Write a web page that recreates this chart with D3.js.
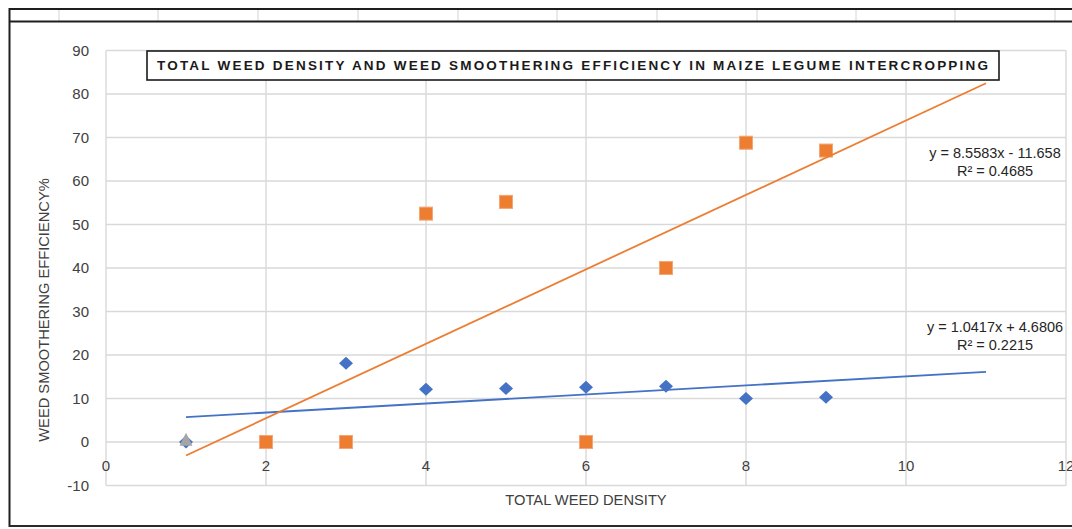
<!DOCTYPE html>
<html>
<head>
<meta charset="utf-8">
<script src="https://cdn.jsdelivr.net/npm/d3@7"></script>
<style>
html,body{margin:0;padding:0;background:#fff;}
svg{display:block;}
</style>
</head>
<body>
<svg id="chart" width="1072" height="529"></svg>
<script>
// ---- data ----
const title = "TOTAL WEED DENSITY AND WEED SMOOTHERING EFFICIENCY IN MAIZE LEGUME INTERCROPPING";
const xTitle = "TOTAL WEED DENSITY";
const yTitle = "WEED SMOOTHERING EFFICIENCY%";
const xTicks = [0, 2, 4, 6, 8, 10, 12];
const yTicks = [-10, 0, 10, 20, 30, 40, 50, 60, 70, 80, 90];

const blueX = [1, 2, 3, 4, 5, 6, 7, 8, 9];
const blueY = [0, 0, 18.1, 12.1, 12.3, 12.6, 12.8, 10.0, 10.3];
const orangeX = [2, 3, 4, 5, 6, 7, 8, 9];
const orangeY = [0, 0, 52.5, 55.2, 0, 40, 68.8, 67];
const grayX = [1];
const grayY = [0.5];

const blueTrend = {slope: 1.0417, intercept: 4.6806, x0: 1, x1: 11};
const orangeTrend = {slope: 8.5583, intercept: -11.658, x0: 1, x1: 11};
const blueEq = ["y = 1.0417x + 4.6806", "R² = 0.2215"];
const orangeEq = ["y = 8.5583x - 11.658", "R² = 0.4685"];

// ---- drawing ----
const svg = d3.select("#chart");
const W = 1072, H = 529;
const x = d3.scaleLinear().domain([0, 12]).range([106, 1066]);
const y = d3.scaleLinear().domain([-10, 90]).range([485.5, 50.5]);
const font = "'Liberation Sans', Arial, sans-serif";

// spreadsheet strip at top
const cellLines = [59, 158, 258, 358, 458, 557, 657, 757, 856, 955, 1055];
svg.selectAll("line.cell").data(cellLines).enter().append("line")
  .attr("x1", d => d).attr("x2", d => d).attr("y1", 9).attr("y2", 21)
  .attr("stroke", "#d4d4d4").attr("stroke-width", 1);
svg.append("line").attr("x1", 9).attr("x2", W).attr("y1", 9).attr("y2", 9)
  .attr("stroke", "#1e1e1e").attr("stroke-width", 2);
svg.append("line").attr("x1", 9).attr("x2", W).attr("y1", 21.5).attr("y2", 21.5)
  .attr("stroke", "#1e1e1e").attr("stroke-width", 2);
svg.append("line").attr("x1", 9.5).attr("x2", 9.5).attr("y1", 8).attr("y2", 527)
  .attr("stroke", "#1e1e1e").attr("stroke-width", 2);
svg.append("line").attr("x1", 9).attr("x2", W).attr("y1", 526).attr("y2", 526)
  .attr("stroke", "#2a2a2a").attr("stroke-width", 2);

// gridlines
const g = svg.append("g");
g.selectAll("line.hg").data(yTicks).enter().append("line")
  .attr("x1", x(0)).attr("x2", x(12)).attr("y1", d => y(d)).attr("y2", d => y(d))
  .attr("stroke", "#d9d9d9").attr("stroke-width", 1.4);
g.selectAll("line.vg").data(xTicks).enter().append("line")
  .attr("x1", d => x(d)).attr("x2", d => x(d)).attr("y1", y(90)).attr("y2", y(-10))
  .attr("stroke", "#d9d9d9").attr("stroke-width", 1.4);

// tick labels
svg.selectAll("text.yt").data(yTicks).enter().append("text")
  .attr("x", 89).attr("y", d => y(d)).attr("dy", "0.35em")
  .attr("text-anchor", "end").attr("font-family", font).attr("font-size", 15)
  .attr("fill", "#404040").text(d => d);
svg.selectAll("text.xt").data(xTicks).enter().append("text")
  .attr("x", d => x(d)).attr("y", y(0) + 24).attr("dy", "0.35em")
  .attr("text-anchor", "middle").attr("font-family", font).attr("font-size", 15)
  .attr("fill", "#404040").text(d => d);

// axis titles
svg.append("text").attr("x", 586).attr("y", 500).attr("dy", "0.35em")
  .attr("text-anchor", "middle").attr("font-family", font).attr("font-size", 14.7)
  .attr("fill", "#404040").text(xTitle);
svg.append("text").attr("transform", "translate(44,310) rotate(-90)").attr("dy", "0.35em")
  .attr("text-anchor", "middle").attr("font-family", font).attr("font-size", 14.7)
  .attr("fill", "#404040").text(yTitle);

// markers
const blue = "#4472C4", orange = "#ED7D31", gray = "#A5A5A5";
svg.selectAll("path.b").data(blueX.map((d, i) => [d, blueY[i]])).enter().append("path")
  .attr("d", "M0,-6.5L7,0L0,6.5L-7,0Z")
  .attr("transform", d => `translate(${x(d[0])},${y(d[1])})`)
  .attr("fill", blue);
svg.selectAll("rect.o").data(orangeX.map((d, i) => [d, orangeY[i]])).enter().append("rect")
  .attr("x", d => x(d[0]) - 6.5).attr("y", d => y(d[1]) - 6.5)
  .attr("width", 13).attr("height", 13)
  .attr("fill", orange).attr("stroke", "#f4a673").attr("stroke-width", 1);
svg.selectAll("path.g").data(grayX.map((d, i) => [d, grayY[i]])).enter().append("path")
  .attr("d", "M0,-7L6.5,6L-6.5,6Z")
  .attr("transform", d => `translate(${x(d[0])},${y(d[1])})`)
  .attr("fill", gray);

// trendlines
function trend(t, color) {
  svg.append("line")
    .attr("x1", x(t.x0)).attr("y1", y(t.slope * t.x0 + t.intercept))
    .attr("x2", x(t.x1)).attr("y2", y(t.slope * t.x1 + t.intercept))
    .attr("stroke", color).attr("stroke-width", 1.8);
}
trend(blueTrend, blue);
trend(orangeTrend, orange);

// equations
function eq(lines, cx, cy) {
  lines.forEach((l, i) => {
    svg.append("text").attr("x", cx).attr("y", cy + i * 18).attr("dy", "0.35em")
      .attr("text-anchor", "middle").attr("font-family", font).attr("font-size", 14.5)
      .attr("fill", "#262626").text(l);
  });
}
eq(orangeEq, 995, 153);
eq(blueEq, 995, 327);

// title box
svg.append("rect").attr("x", 147).attr("y", 51).attr("width", 852).attr("height", 29)
  .attr("fill", "#fff").attr("stroke", "#1a1a1a").attr("stroke-width", 1.6);
svg.append("text").attr("x", 157).attr("y", 65.5).attr("dy", "0.35em")
  .attr("font-family", font).attr("font-weight", "bold").attr("font-size", 13.5)
  .attr("fill", "#1a1a1a").attr("textLength", 831).attr("lengthAdjust", "spacing")
  .text(title);
</script>
</body>
</html>
